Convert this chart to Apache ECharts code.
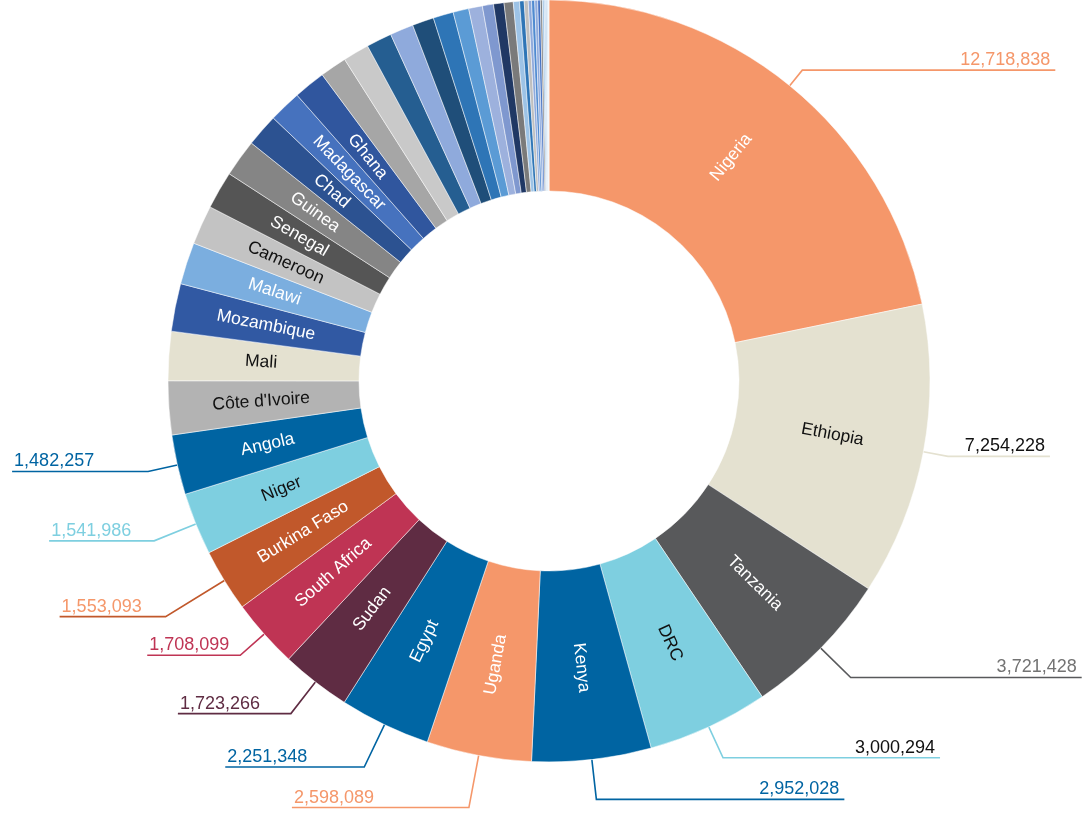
<!DOCTYPE html>
<html>
<head>
<meta charset="utf-8">
<script src="https://cdn.jsdelivr.net/npm/echarts@6/dist/echarts.min.js"></script>
<style>
  html, body { margin: 0; padding: 0; background: #ffffff; }
  #chart { width: 1082px; height: 815px; }
</style>
</head>
<body>
<div id="chart"></div>
<script>
// Named countries, largest first, and their values
const countries = ['Nigeria', 'Ethiopia', 'Tanzania', 'DRC', 'Kenya', 'Uganda', 'Egypt', 'Sudan',
  'South Africa', 'Burkina Faso', 'Niger', 'Angola', "Côte d'Ivoire", 'Mali', 'Mozambique', 'Malawi',
  'Cameroon', 'Senegal', 'Guinea', 'Chad', 'Madagascar', 'Ghana'];
const countryValues = [12718838, 7254228, 3721428, 3000294, 2952028, 2598089, 2251348, 1723266,
  1708099, 1553093, 1541986, 1482257, 1330000, 1215000, 1183000, 1037000,
  972000, 935000, 925000, 812000, 806000, 790000];
// Remaining countries without a label
const otherValues = [664000, 648000, 632000, 583000, 535000, 502000, 389000, 340000, 275000, 259000,
  227000, 154000, 113000, 100000, 81000, 78000, 73000, 65000, 49000, 45000, 36000, 29000, 23000, 16000, 13000];

// Slice fills
const countryColors = ['#F5976A', '#E4E1D0', '#58595B', '#7ECFE0', '#0064A2', '#F5976A', '#0066A4', '#5F2C43',
  '#BF3454', '#C1582B', '#7ECFE0', '#0064A2', '#B3B3B3', '#E4E1D0', '#3159A3', '#7BAEDF',
  '#C3C3C3', '#555555', '#858585', '#2C5291', '#4672BE', '#30569E'];
const otherColors = ['#A6A6A6', '#C9C9C9', '#255E91', '#8FAADC', '#1F4E79', '#2E75B6', '#5B9BD5', '#9DB1DD',
  '#7F98CF', '#203864', '#7A7A7A', '#9DC3E6', '#2E75B6', '#BFBFBF', '#8FAADC', '#4F8AD0', '#8FAADC',
  '#4472C4', '#808080', '#9DC3E6', '#A9C8E8', '#9DC3E6', '#BDD7EE', '#9DC3E6', '#DEEBF7'];
// Colour of the country name printed on each slice
const nameTextColors = ['#ffffff', '#111111', '#ffffff', '#111111', '#ffffff', '#ffffff', '#ffffff', '#ffffff',
  '#ffffff', '#ffffff', '#111111', '#ffffff', '#111111', '#111111', '#ffffff', '#ffffff',
  '#111111', '#ffffff', '#ffffff', '#ffffff', '#ffffff', '#ffffff'];
// Value call-outs for the twelve largest countries
const valueTextColors = ['#F5976A', '#111111', '#737373', '#111111', '#0064A2', '#F5976A', '#0064A2', '#5F2C43',
  '#BF3454', '#F5976A', '#7ECFE0', '#0064A2'];
const valueLineColors = ['#F5976A', '#E4E1D0', '#58595B', '#7ECFE0', '#0064A2', '#F5976A', '#0064A2', '#5F2C43',
  '#BF3454', '#C1582B', '#7ECFE0', '#0064A2'];
const leaderLen = [20, 25, 42, 34, 40, 53, 47, 40, 32, 69, 45, 30];
const leaderLen2 = [253, 102, 231, 217, 248, 177, 139, 113, 93, 106, 105, 136];

const FONT = '"Liberation Sans Narrow", "Arial Narrow", "Liberation Sans", Arial, sans-serif';

const names = countries.concat(otherValues.map((v, i) => 'Other ' + (i + 1)));
const values = countryValues.concat(otherValues);
const colors = countryColors.concat(otherColors);

const sliceData = values.map((v, i) => ({
  name: names[i],
  value: v,
  itemStyle: { color: colors[i] },
  label: { show: i < countries.length, color: nameTextColors[i] || '#ffffff' }
}));

const valueData = values.map((v, i) => {
  const shown = i < valueTextColors.length;
  return {
    name: names[i],
    value: v,
    label: shown ? { show: true, color: valueTextColors[i] } : { show: false },
    labelLine: shown
      ? { show: true, length: leaderLen[i], length2: leaderLen2[i], lineStyle: { color: valueLineColors[i] } }
      : { show: false }
  };
});

const chart = echarts.init(document.getElementById('chart'), null, { renderer: 'canvas' });

chart.setOption({
  animation: false,
  backgroundColor: '#ffffff',
  series: [
    {
      type: 'pie',
      center: [549, 381],
      radius: [190, 381],
      startAngle: 90,
      clockwise: true,
      avoidLabelOverlap: false,
      silent: true,
      itemStyle: { borderColor: '#ffffff', borderWidth: 0.5 },
      label: {
        position: 'inside',
        rotate: 'radial',
        formatter: '{b}',
        fontFamily: FONT,
        fontSize: 17.5
      },
      labelLine: { show: false },
      emphasis: { disabled: true },
      data: sliceData
    },
    {
      type: 'pie',
      center: [549, 381],
      radius: [190, 381],
      startAngle: 90,
      clockwise: true,
      avoidLabelOverlap: false,
      silent: true,
      itemStyle: { color: 'rgba(0,0,0,0)', borderWidth: 0 },
      label: {
        position: 'outside',
        formatter: (p) => p.value.toLocaleString('en-US'),
        fontFamily: FONT,
        fontSize: 18,
        width: 110,
        overflow: 'none'
      },
      labelLine: { show: true, smooth: false, lineStyle: { width: 1.6 } },
      // Text sits on top of the horizontal leader segment, flush with its outer end
      labelLayout: function (params) {
        const pts = params.labelLinePoints;
        if (!pts) return {};
        const onLeft = pts[2][0] < pts[1][0];
        return {
          x: pts[2][0] + (onLeft ? 2 : -5),
          y: pts[2][1] - 1,
          align: onLeft ? 'left' : 'right',
          verticalAlign: 'bottom',
          labelLinePoints: pts
        };
      },
      emphasis: { disabled: true },
      data: valueData
    }
  ]
});
</script>
</body>
</html>
